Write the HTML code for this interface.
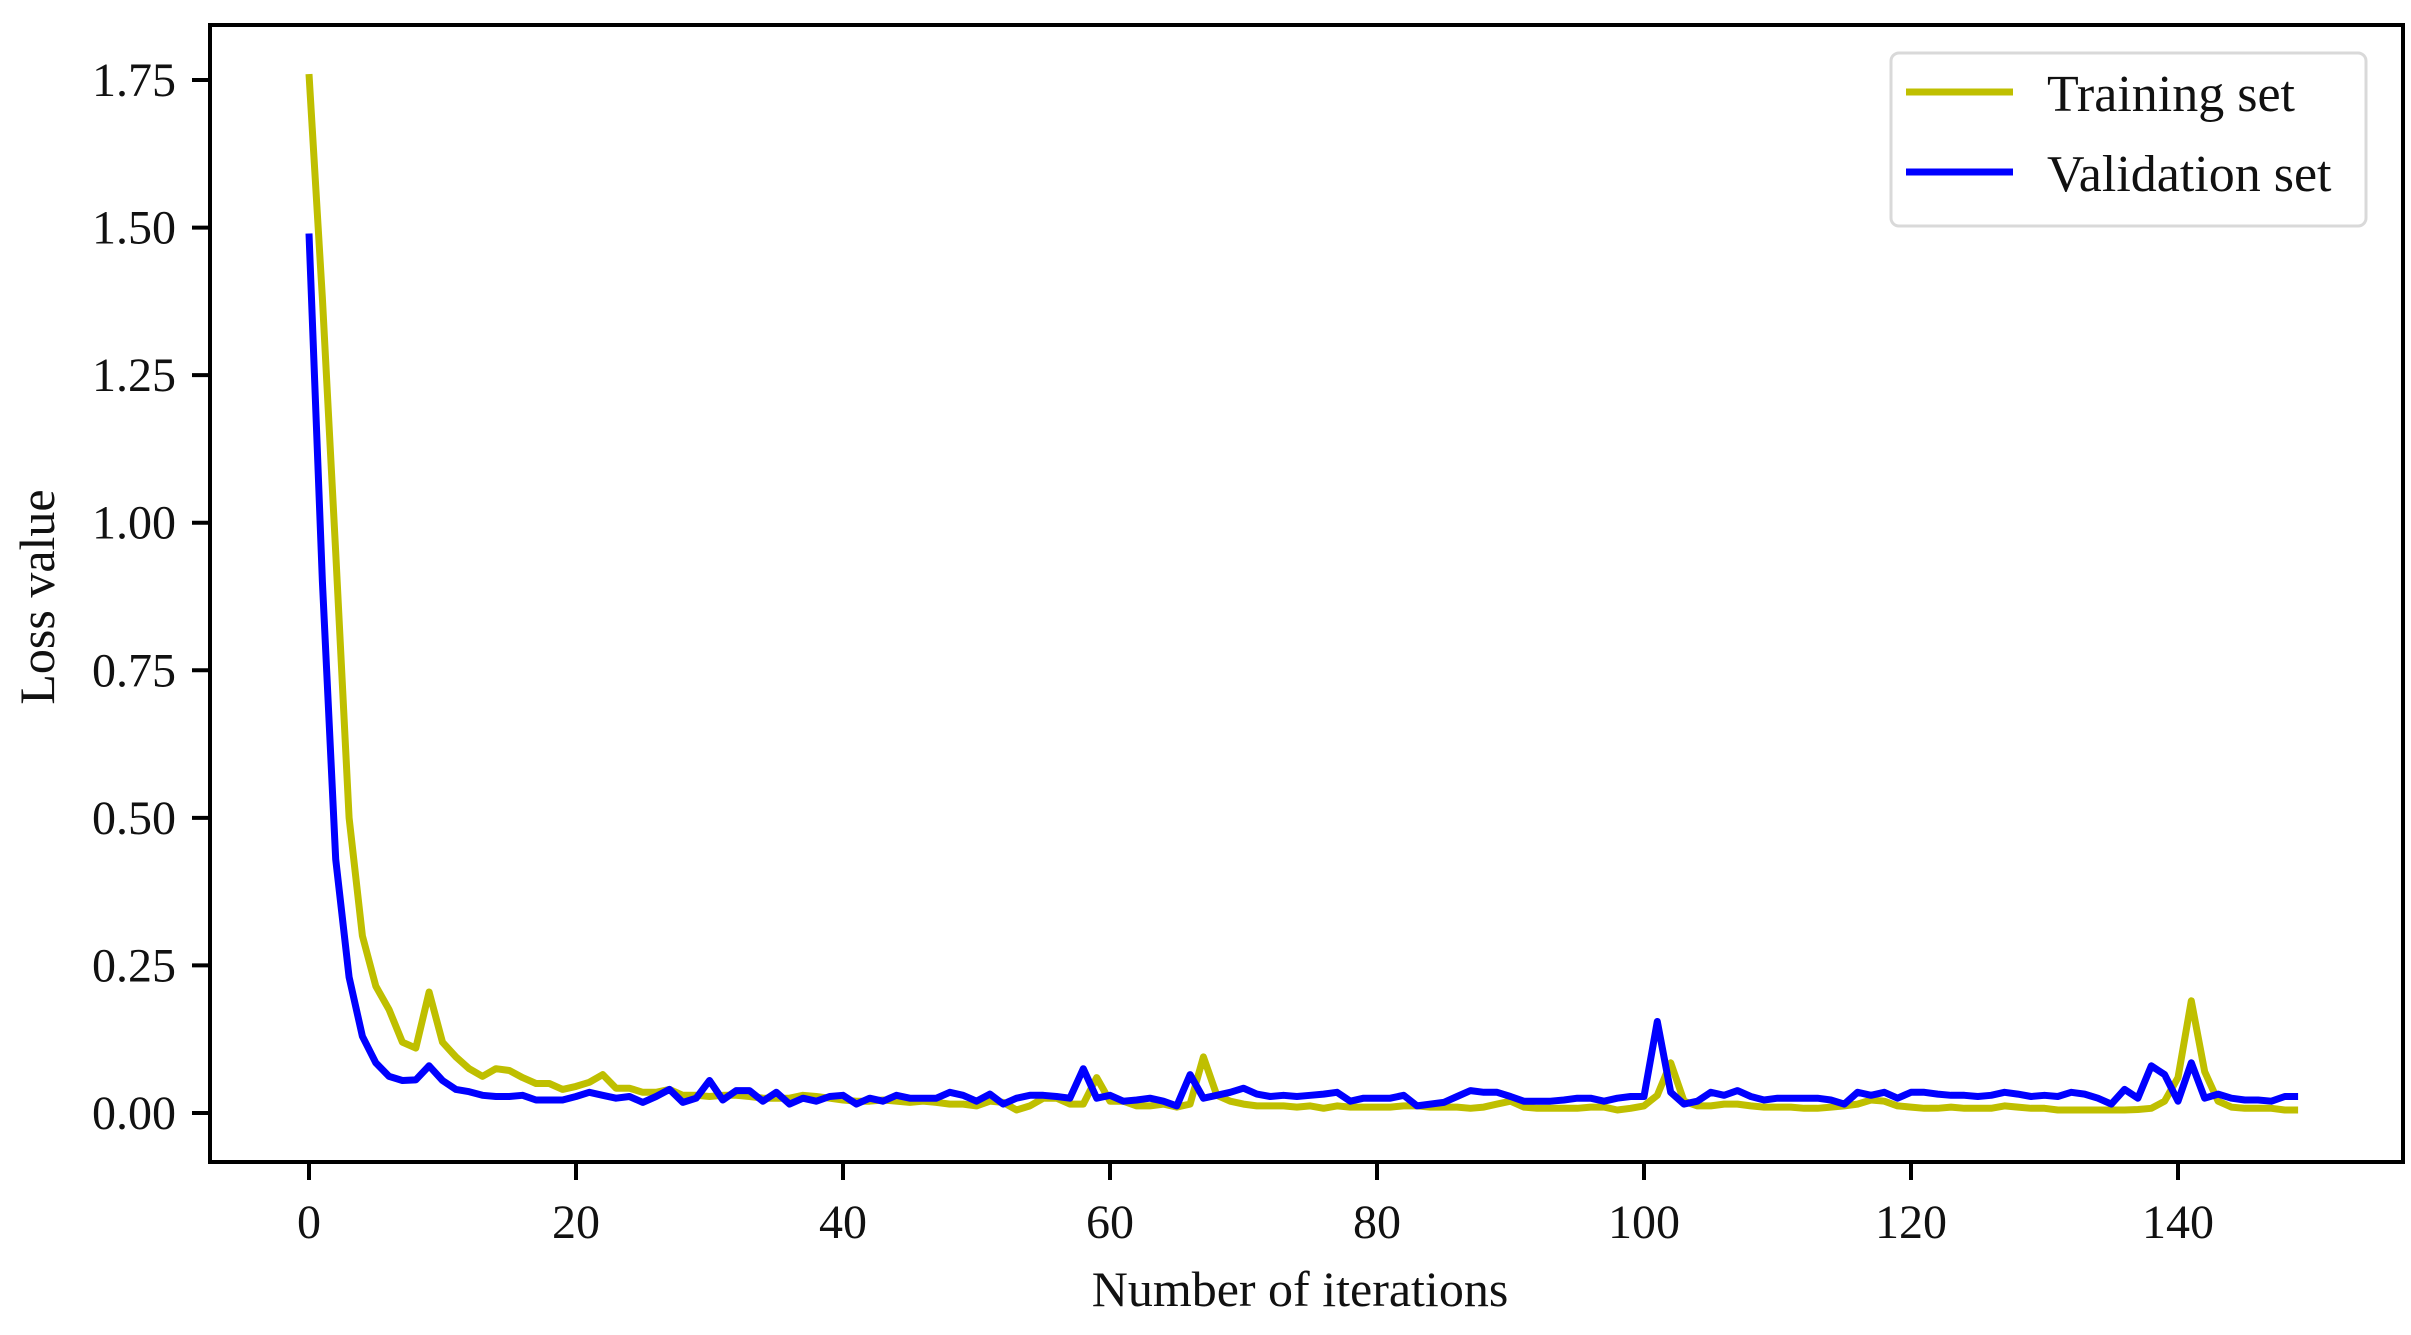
<!DOCTYPE html>
<html><head><meta charset="utf-8"><style>
html,body{margin:0;padding:0;background:#fff;}
svg{display:block;}
text{font-family:"Liberation Serif",serif;fill:#111;}
</style></head><body>
<svg id="chart" width="2411" height="1335" viewBox="0 0 2411 1335" xmlns="http://www.w3.org/2000/svg">
<rect x="0" y="0" width="2411" height="1335" fill="#fff"/>
<g id="plot"></g>
<g id="axes"></g>
<text x="0" y="0" font-size="50" text-anchor="middle" transform="translate(54,597) rotate(-90)">Loss value</text>
<text x="1300" y="1306" font-size="50" text-anchor="middle">Number of iterations</text>
<g>
<rect x="1891" y="53" width="475" height="173" rx="8" fill="#fff" stroke="#d9d9d9" stroke-width="3"/>
<line x1="1906" y1="92" x2="2013" y2="92" stroke="#bfbf00" stroke-width="7"/>
<text x="2047" y="111" font-size="52">Training set</text>
<line x1="1906" y1="172" x2="2013" y2="172" stroke="#0000ff" stroke-width="7"/>
<text x="2047" y="191" font-size="52">Validation set</text>
</g>
</svg>
<script>
const xTicks = [0,20,40,60,80,100,120,140];
const yTicks = [0,0.25,0.5,0.75,1.0,1.25,1.5,1.75];
const yTickLabels = ["0.00","0.25","0.50","0.75","1.00","1.25","1.50","1.75"];
const trainLoss = [1.76,1.38,0.95,0.50,0.30,0.215,0.175,0.12,0.11,0.205,
0.12,0.095,0.075,0.062,0.075,0.072,0.06,0.05,0.05,0.04,
0.045,0.052,0.065,0.042,0.042,0.035,0.035,0.04,0.03,0.03,
0.028,0.03,0.03,0.028,0.025,0.025,0.025,0.03,0.028,0.025,
0.022,0.02,0.02,0.022,0.02,0.018,0.02,0.018,0.015,0.015,
0.012,0.02,0.018,0.005,0.012,0.025,0.025,0.015,0.015,0.06,
0.02,0.02,0.012,0.012,0.015,0.01,0.015,0.095,0.03,0.02,
0.015,0.012,0.012,0.012,0.01,0.012,0.008,0.012,0.01,0.01,
0.01,0.01,0.012,0.012,0.01,0.01,0.01,0.008,0.01,0.015,
0.02,0.01,0.008,0.008,0.008,0.008,0.01,0.01,0.005,0.008,
0.012,0.03,0.085,0.02,0.012,0.012,0.015,0.015,0.012,0.01,
0.01,0.01,0.008,0.008,0.01,0.012,0.015,0.022,0.02,0.012,
0.01,0.008,0.008,0.01,0.008,0.008,0.008,0.012,0.01,0.008,
0.008,0.005,0.005,0.005,0.005,0.005,0.005,0.006,0.008,0.02,
0.06,0.19,0.07,0.02,0.01,0.008,0.008,0.008,0.005,0.005];
const valLoss = [1.49,0.90,0.43,0.23,0.13,0.085,0.062,0.055,0.056,0.08,
0.055,0.04,0.036,0.03,0.028,0.028,0.03,0.022,0.022,0.022,
0.028,0.035,0.03,0.025,0.028,0.018,0.028,0.04,0.018,0.025,
0.055,0.022,0.038,0.038,0.02,0.035,0.015,0.025,0.02,0.028,
0.03,0.015,0.025,0.02,0.03,0.025,0.025,0.025,0.035,0.03,
0.02,0.032,0.015,0.025,0.03,0.03,0.028,0.025,0.075,0.025,
0.03,0.02,0.022,0.025,0.02,0.012,0.065,0.025,0.03,0.035,
0.042,0.032,0.028,0.03,0.028,0.03,0.032,0.035,0.02,0.025,
0.025,0.025,0.03,0.012,0.015,0.018,0.028,0.038,0.035,0.035,
0.028,0.02,0.02,0.02,0.022,0.025,0.025,0.02,0.025,0.028,
0.028,0.155,0.035,0.015,0.02,0.035,0.03,0.038,0.028,0.022,
0.025,0.025,0.025,0.025,0.022,0.015,0.035,0.03,0.035,0.025,
0.035,0.035,0.032,0.03,0.03,0.028,0.03,0.035,0.032,0.028,
0.03,0.028,0.035,0.032,0.025,0.015,0.04,0.025,0.08,0.065,
0.02,0.085,0.025,0.032,0.025,0.022,0.022,0.02,0.028,0.028];

const NS = "http://www.w3.org/2000/svg";
const X0 = 309, PXU = 267/20;
const Y0 = 1113, PYU = (1113-80)/1.75;
function xs(v){ return X0 + v*PXU; }
function ys(v){ return Y0 - v*PYU; }
const plot = document.getElementById('plot');
const axes = document.getElementById('axes');

function series(data, color, name){
  const p = document.createElementNS(NS,'polyline');
  p.setAttribute('points', data.map((v,i)=>xs(i).toFixed(1)+','+ys(v).toFixed(1)).join(' '));
  p.setAttribute('fill','none');
  p.setAttribute('stroke',color);
  p.setAttribute('stroke-width','7');
  p.setAttribute('stroke-linejoin','round');
  
  
  plot.appendChild(p);
}
series(trainLoss,'#bfbf00','training-loss-line');
series(valLoss,'#0000ff','validation-loss-line');

const frame = document.createElementNS(NS,'rect');
frame.setAttribute('x',210); frame.setAttribute('y',25);
frame.setAttribute('width',2193); frame.setAttribute('height',1137);
frame.setAttribute('fill','none'); frame.setAttribute('stroke','#000'); frame.setAttribute('stroke-width','4');


axes.appendChild(frame);

xTicks.forEach(t=>{
  const l = document.createElementNS(NS,'line');
  l.setAttribute('x1',xs(t)); l.setAttribute('x2',xs(t));
  l.setAttribute('y1',1162); l.setAttribute('y2',1180);
  l.setAttribute('stroke','#000'); l.setAttribute('stroke-width','4');
  
  
  axes.appendChild(l);
  const tx = document.createElementNS(NS,'text');
  tx.setAttribute('x',xs(t)); tx.setAttribute('y',1238);
  tx.setAttribute('font-size','48'); tx.setAttribute('text-anchor','middle');
  tx.textContent = t;
  
  
  axes.appendChild(tx);
});
yTicks.forEach((t,i)=>{
  const l = document.createElementNS(NS,'line');
  l.setAttribute('x1',192); l.setAttribute('x2',210);
  l.setAttribute('y1',ys(t)); l.setAttribute('y2',ys(t));
  l.setAttribute('stroke','#000'); l.setAttribute('stroke-width','4');
  
  
  axes.appendChild(l);
  const tx = document.createElementNS(NS,'text');
  tx.setAttribute('x',176); tx.setAttribute('y',ys(t)+16);
  tx.setAttribute('font-size','48'); tx.setAttribute('text-anchor','end');
  tx.textContent = yTickLabels[i];
  
  
  axes.appendChild(tx);
});
</script>
</body></html>
